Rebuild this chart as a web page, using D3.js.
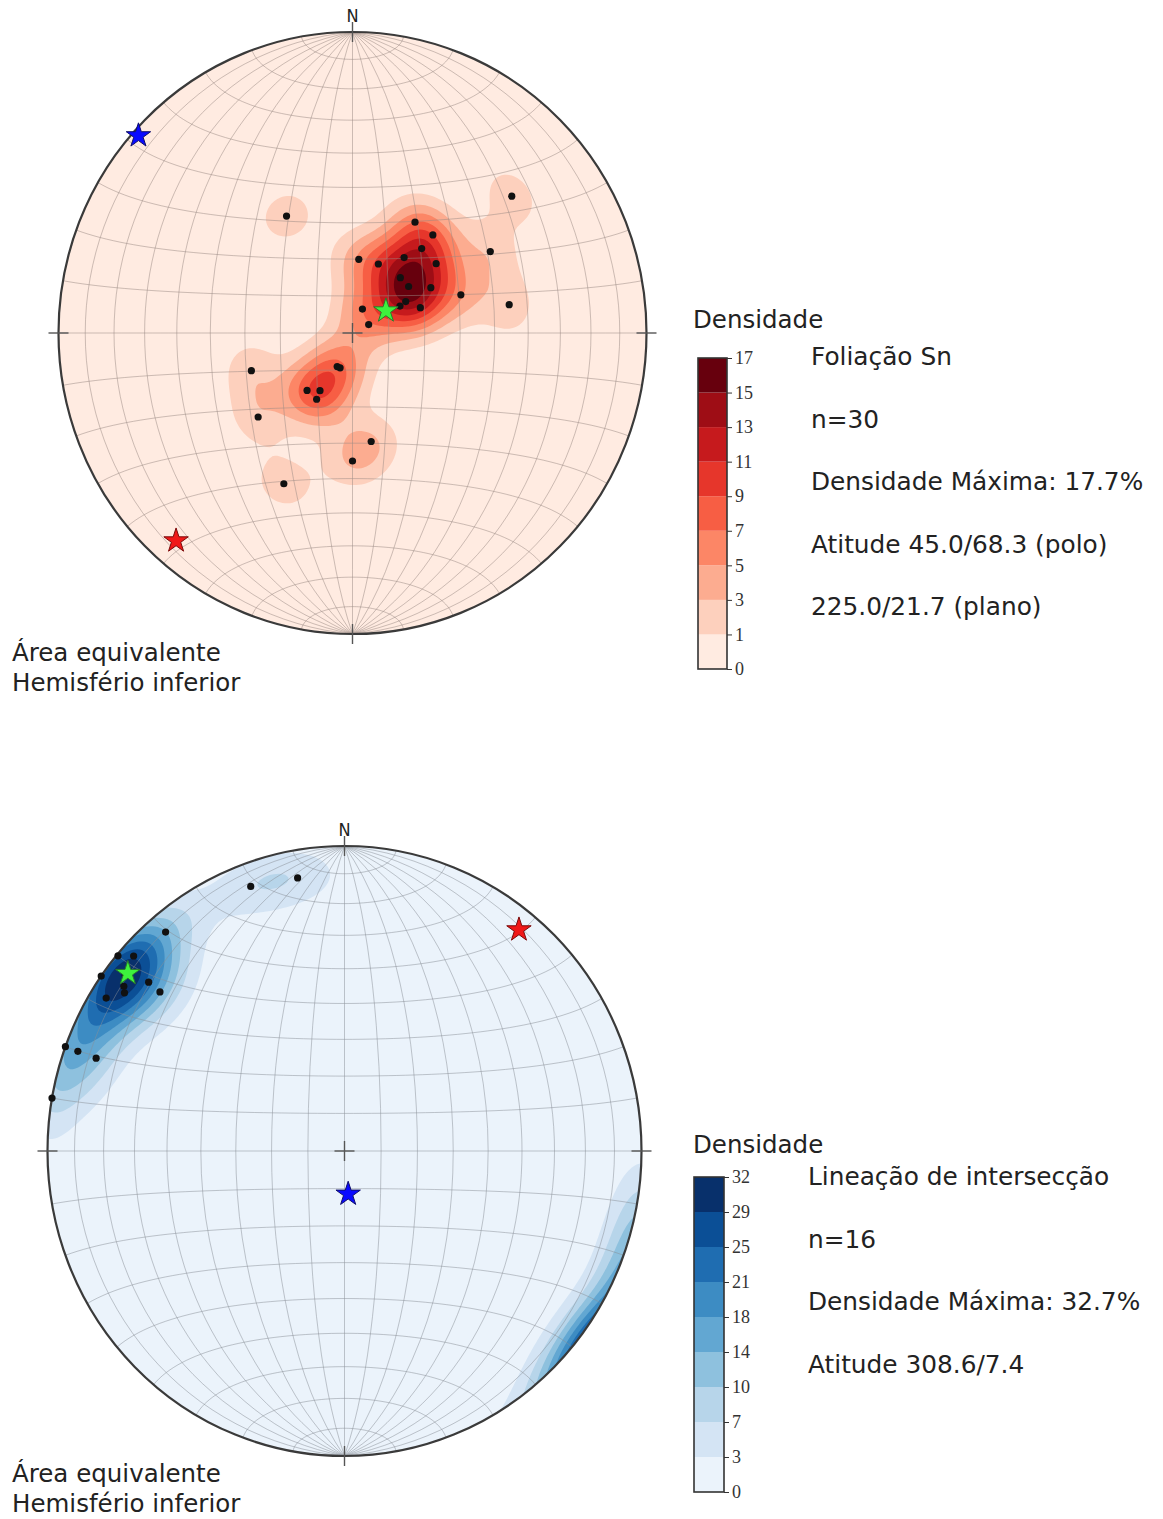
<!DOCTYPE html>
<html>
<head>
<meta charset="utf-8">
<script src="https://cdn.jsdelivr.net/npm/d3@7"></script>
<style>
  body { margin: 0; background: #fff; }
  text { font-family: "DejaVu Sans", Verdana, sans-serif; fill: #222; }
  .cbar text { font-family: "Liberation Serif", "DejaVu Serif", serif; font-size: 18px; fill: #333; }
</style>
</head>
<body>
<svg id="chart" width="1163" height="1519"></svg>
<script>
// Poles of foliation Sn (trend / plunge, degrees)
const SN_TREND  = [330, 50, 30, 40, 40, 60, 5, 21, 35, 51, 41.5, 51, 60.5, 71, 80,
                   60, 61, 70, 23, 63, 250, 205, 200, 219, 210, 209, 229, 170, 180, 205];
const SN_PLUNGE = [53, 30, 55, 55, 60, 45, 70, 70, 65, 60, 70, 70, 65, 58, 45,
                   73, 75, 70, 83, 85, 60, 80, 80, 70, 72, 69.5, 55, 60, 55, 44];
// stars: green, red, blue
const SN_STAR_TREND  = [57, 221, 312];
const SN_STAR_PLUNGE = [79, 9.4, 2.3];
const SN_MAX = 17.7;
const SN_TEXT = ["Foliação Sn", "n=30", "Densidade Máxima: 17.7%",
                 "Atitude 45.0/68.3 (polo)", "225.0/21.7 (plano)"];

// Intersection lineation (trend / plunge), lower net
const LI_TREND  = [340, 350, 320, 310, 305, 305, 310, 310, 290, 290, 290, 280, 308, 306, 312, 302];
const LI_PLUNGE = [8.5, 10, 7, 0.5, 0, 10.5, 15, 20, 0, 5, 12, 0, 7, 9, 5, 6];
const LI_STAR_TREND  = [308.6, 39, 175];
const LI_STAR_PLUNGE = [7.4, 7.4, 78.5];
const LI_MAX = 32.7;
const LI_TEXT = ["Lineação de intersecção", "n=16", "Densidade Máxima: 32.7%", "Atitude 308.6/7.4"];

const NET_LABEL = ["Área equivalente", "Hemisfério inferior"];

const STAR_FILL = ["#3df23d", "#f01818", "#0a0aff"];
const STAR_EDGE = ["#2b7a2b", "#7a0a0a", "#10106a"];

const DEG = Math.PI / 180;
const GRID_N = 240, GRID_L = 1.04;
// kernel concentration grows with sample size (exponential Kamb style)
const KAPPA_BASE = 19.6, SIGMA = 3;

const SVG = d3.select("#chart");

// equal-area (Schmidt) net: projection centred on the vertical, unit radius
const PROJ = d3.geoAzimuthalEqualArea()
    .rotate([0, 0])
    .scale(Math.SQRT1_2)
    .translate([0, 0])
    .clipAngle(90)
    .precision(0.0005);

// trend/plunge of a lower-hemisphere line -> lon/lat on the net
function toLonLat(trend, plunge) {
  const t = trend * DEG, p = plunge * DEG;
  const lat = Math.asin(Math.cos(p) * Math.cos(t));
  const lon = Math.atan2(Math.cos(p) * Math.sin(t), Math.sin(p));
  return [lon / DEG, lat / DEG];
}
function toVec(ll) {
  const lon = ll[0] * DEG, lat = ll[1] * DEG;
  return [Math.cos(lat) * Math.cos(lon), Math.cos(lat) * Math.sin(lon), Math.sin(lat)];
}

function drawNet(opt) {
  const X = d3.scaleLinear().domain([-1, 1]).range([opt.cx - opt.rx, opt.cx + opt.rx]);
  const Y = d3.scaleLinear().domain([-1, 1]).range([opt.cy - opt.ry, opt.cy + opt.ry]);
  const G = d3.scaleLinear().domain([0, GRID_N]).range([-GRID_L, GRID_L]);

  const toPx = d3.geoTransform({ point(x, y) { this.stream.point(X(x), Y(y)); } });
  const netPath = d3.geoPath({ stream: s => PROJ.stream(toPx.stream(s)) });
  const gridPath = d3.geoPath(d3.geoTransform({
    point(x, y) { this.stream.point(X(G(x)), Y(G(y))); }
  }));

  // density grid (axial exponential kernel)
  const kappa = KAPPA_BASE * (1 + opt.trend.length / (SIGMA * SIGMA));
  const vecs = opt.trend.map((t, i) => toVec(toLonLat(t, opt.plunge[i])));
  const vals = new Float64Array(GRID_N * GRID_N);
  for (let j = 0; j < GRID_N; j++) {
    for (let i = 0; i < GRID_N; i++) {
      const ll = PROJ.invert([G(i + 0.5), G(j + 0.5)]);
      if (!ll || isNaN(ll[0]) || isNaN(ll[1])) continue;
      const c = toVec(ll);
      let s = 0;
      for (const p of vecs) {
        const d = Math.abs(c[0] * p[0] + c[1] * p[1] + c[2] * p[2]);
        s += Math.exp(kappa * (d - 1));
      }
      vals[j * GRID_N + i] = s;
    }
  }
  const mx = d3.max(vals);
  for (let k = 0; k < vals.length; k++) vals[k] = vals[k] / mx * opt.max;

  const levels = d3.range(10).map(i => i * opt.max / 9);
  const color = i => opt.interp(0.06 + 0.94 * i / 8);

  const g = SVG.append("g");
  const clipId = "clip" + opt.id;
  g.append("clipPath").attr("id", clipId)
    .append("ellipse")
      .attr("cx", opt.cx).attr("cy", opt.cy)
      .attr("rx", opt.rx).attr("ry", opt.ry);

  const inner = g.append("g").attr("clip-path", "url(#" + clipId + ")");
  inner.append("ellipse")
    .attr("cx", opt.cx).attr("cy", opt.cy)
    .attr("rx", opt.rx).attr("ry", opt.ry)
    .attr("fill", color(0));

  const bands = d3.contours().size([GRID_N, GRID_N]).thresholds(levels.slice(1, 9))(vals);
  inner.selectAll(".band")
    .data(bands)
    .enter().append("path")
      .attr("class", "band")
      .attr("d", gridPath)
      .attr("fill", (d, i) => color(i + 1));

  // graticule
  const graticule = d3.geoGraticule()
      .stepMinor([10, 10])
      .extentMinor([[-180, -90 + 1e-6], [180, 90 - 1e-6]]);
  inner.append("path")
    .datum(graticule())
    .attr("d", netPath)
    .attr("fill", "none")
    .attr("stroke", opt.gridColor)
    .attr("stroke-opacity", 0.5)
    .attr("stroke-width", 1);

  // primitive circle
  g.append("ellipse")
    .attr("cx", opt.cx).attr("cy", opt.cy)
    .attr("rx", opt.rx).attr("ry", opt.ry)
    .attr("fill", "none")
    .attr("stroke", "#3a3a3a")
    .attr("stroke-width", 2.2);

  // cardinal ticks and centre cross
  const T = 10;
  const ticks = [
    [opt.cx, opt.cy - opt.ry - T, opt.cx, opt.cy - opt.ry + T],
    [opt.cx, opt.cy + opt.ry - T, opt.cx, opt.cy + opt.ry + T],
    [opt.cx - opt.rx - T, opt.cy, opt.cx - opt.rx + T, opt.cy],
    [opt.cx + opt.rx - T, opt.cy, opt.cx + opt.rx + T, opt.cy],
    [opt.cx - T, opt.cy, opt.cx + T, opt.cy],
    [opt.cx, opt.cy - T, opt.cx, opt.cy + T]
  ];
  g.selectAll(".tick")
    .data(ticks)
    .enter().append("line")
      .attr("x1", d => d[0]).attr("y1", d => d[1])
      .attr("x2", d => d[2]).attr("y2", d => d[3])
      .attr("stroke", "#555")
      .attr("stroke-width", 1.4);

  g.append("text")
    .attr("x", opt.cx).attr("y", opt.cy - opt.ry - 10)
    .attr("text-anchor", "middle")
    .attr("font-size", 18)
    .style("font-family", "'DejaVu Sans Condensed', 'DejaVu Sans', sans-serif")
    .text("N");

  // data points
  const pts = opt.trend.map((t, i) => PROJ(toLonLat(t, opt.plunge[i])));
  g.selectAll(".point")
    .data(pts)
    .enter().append("circle")
      .attr("class", "point")
      .attr("cx", d => X(d[0]))
      .attr("cy", d => Y(d[1]))
      .attr("r", 3.6)
      .attr("fill", "#111");

  // stars
  const stars = opt.starTrend.map((t, i) => PROJ(toLonLat(t, opt.starPlunge[i])));
  g.selectAll(".star")
    .data(stars)
    .enter().append("path")
      .attr("class", "star")
      .attr("d", d3.symbol(d3.symbolStar).size(185))
      .attr("transform", d => "translate(" + X(d[0]) + "," + Y(d[1]) + ")")
      .attr("fill", (d, i) => STAR_FILL[i])
      .attr("stroke", (d, i) => STAR_EDGE[i])
      .attr("stroke-width", 1);

  // net labels
  g.selectAll(".netlabel")
    .data(NET_LABEL)
    .enter().append("text")
      .attr("x", 12)
      .attr("y", (d, i) => opt.labelY + i * 30)
      .attr("font-size", 24.5)
      .text(d => d);

  // colour bar
  const cb = opt.cbar;
  const CB = d3.scaleLinear().domain([0, opt.max]).range([cb.y1, cb.y0]);
  const bar = g.append("g").attr("class", "cbar");
  bar.selectAll("rect")
    .data(d3.range(9))
    .enter().append("rect")
      .attr("x", cb.x)
      .attr("width", cb.w)
      .attr("y", i => CB(levels[i + 1]))
      .attr("height", i => CB(levels[i]) - CB(levels[i + 1]))
      .attr("fill", i => color(i));
  bar.append("rect")
    .attr("x", cb.x).attr("y", cb.y0)
    .attr("width", cb.w).attr("height", cb.y1 - cb.y0)
    .attr("fill", "none")
    .attr("stroke", "#333")
    .attr("stroke-width", 1.6);
  const axis = bar.append("g")
    .attr("transform", "translate(" + (cb.x + cb.w) + ",0)")
    .call(d3.axisRight(CB).tickValues(levels)
          .tickFormat(v => Math.floor(v + 1e-9)).tickSize(5).tickPadding(3));
  axis.select(".domain").remove();
  axis.selectAll("line").attr("stroke", "#333");

  g.append("text")
    .attr("x", 693).attr("y", opt.titleY)
    .attr("font-size", 24.5)
    .text("Densidade");

  g.selectAll(".info")
    .data(opt.text)
    .enter().append("text")
      .attr("x", opt.textX)
      .attr("y", (d, i) => opt.textY + i * 62.5)
      .attr("font-size", 24.8)
      .text(d => d);
}

drawNet({
  id: "sn", cx: 352.5, cy: 333, rx: 294, ry: 301,
  trend: SN_TREND, plunge: SN_PLUNGE,
  starTrend: SN_STAR_TREND, starPlunge: SN_STAR_PLUNGE,
  max: SN_MAX, interp: d3.interpolateReds, gridColor: "#9a8a84",
  cbar: { x: 698, w: 29, y0: 358, y1: 669 },
  titleY: 328, text: SN_TEXT, textX: 811, textY: 365,
  labelY: 661
});

drawNet({
  id: "li", cx: 344.5, cy: 1151, rx: 297, ry: 305,
  trend: LI_TREND, plunge: LI_PLUNGE,
  starTrend: LI_STAR_TREND, starPlunge: LI_STAR_PLUNGE,
  max: LI_MAX, interp: d3.interpolateBlues, gridColor: "#8a9098",
  cbar: { x: 694, w: 30, y0: 1177, y1: 1492 },
  titleY: 1153, text: LI_TEXT, textX: 808, textY: 1185,
  labelY: 1482
});
</script>
</body>
</html>
